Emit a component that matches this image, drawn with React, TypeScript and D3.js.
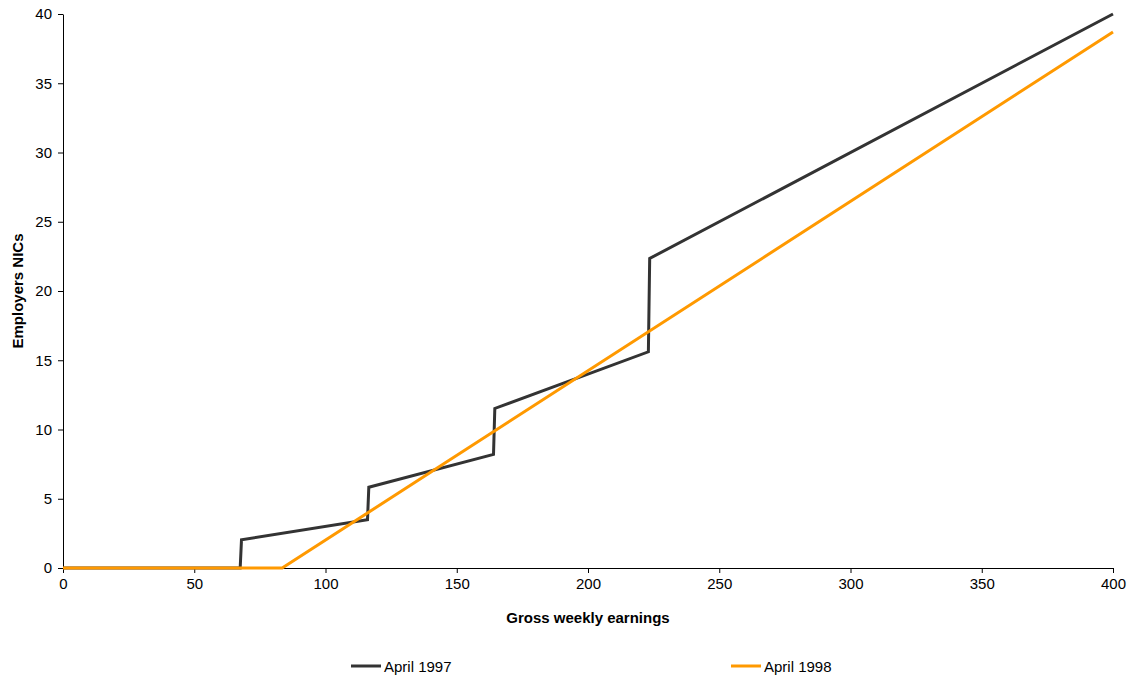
import React, { useEffect, useRef } from "react";
import * as d3 from "d3";

// Employers NICs by gross weekly earnings
const april1997X = [0, 67.5, 68, 116, 116.5, 164, 164.5, 223, 223.5, 400];
const april1997Y = [0, 0, 2.04, 3.48, 5.83, 8.2, 11.52, 15.61, 22.35, 40];
const april1998X = [0, 83.5, 400];
const april1998Y = [0, 0, 38.7];
const seriesNames = ["April 1997", "April 1998"];
const seriesColors = ["#333333", "#FF9900"];
const xTicks = [0, 50, 100, 150, 200, 250, 300, 350, 400];
const yTicks = [0, 5, 10, 15, 20, 25, 30, 35, 40];

const W = 1133;
const H = 681;

export default function App() {
  const ref = useRef<SVGSVGElement | null>(null);

  useEffect(() => {
    const node = ref.current;
    if (!node) return;
    const svg = d3.select(node);
    svg.selectAll("*").remove();

    const margin = { top: 14, right: 20, bottom: 113, left: 63 };
    const width = W - margin.left - margin.right;
    const height = H - margin.top - margin.bottom;
    const font = "'Liberation Sans', Arial, sans-serif";
    const fs = "15px";

    const x = d3.scaleLinear().domain([0, 400]).range([0, width]);
    const y = d3.scaleLinear().domain([0, 40]).range([height, 0]);

    const g = svg
      .append("g")
      .attr("transform", `translate(${margin.left},${margin.top})`);

    const xAxis = g
      .append("g")
      .attr("transform", `translate(0,${height})`)
      .call(d3.axisBottom(x).tickValues(xTicks).tickSize(5).tickSizeOuter(0).tickPadding(5));
    const yAxis = g
      .append("g")
      .call(d3.axisLeft(y).tickValues(yTicks).tickSize(5).tickSizeOuter(0).tickPadding(6));

    [xAxis, yAxis].forEach(a => {
      a.selectAll("path, line").attr("stroke", "#000").attr("stroke-width", 1);
      a.selectAll("text")
        .attr("fill", "#000")
        .style("font-family", font)
        .style("font-size", fs);
    });

    g.append("text")
      .attr("x", width / 2)
      .attr("y", height + 55)
      .attr("text-anchor", "middle")
      .style("font-family", font)
      .style("font-size", fs)
      .style("font-weight", "bold")
      .text("Gross weekly earnings");

    g.append("text")
      .attr("transform", "rotate(-90)")
      .attr("x", -height / 2)
      .attr("y", -40)
      .attr("text-anchor", "middle")
      .style("font-family", font)
      .style("font-size", fs)
      .style("font-weight", "bold")
      .text("Employers NICs");

    const line = d3
      .line<[number, number]>()
      .x(d => x(d[0]))
      .y(d => y(d[1]));

    const series: [number, number][][] = [
      april1997X.map((v, i) => [v, april1997Y[i]] as [number, number]),
      april1998X.map((v, i) => [v, april1998Y[i]] as [number, number]),
    ];

    series.forEach((s, i) => {
      g.append("path")
        .datum(s)
        .attr("fill", "none")
        .attr("stroke", seriesColors[i])
        .attr("stroke-width", 3)
        .attr("stroke-linejoin", "miter")
        .attr("d", line);
    });

    // legend
    const legendX = [351, 731];
    const legendY = 666;
    seriesNames.forEach((name, i) => {
      svg
        .append("line")
        .attr("x1", legendX[i])
        .attr("x2", legendX[i] + 30)
        .attr("y1", legendY)
        .attr("y2", legendY)
        .attr("stroke", seriesColors[i])
        .attr("stroke-width", 3);
      svg
        .append("text")
        .attr("x", legendX[i] + 33)
        .attr("y", legendY + 6)
        .style("font-family", font)
        .style("font-size", fs)
        .text(name);
    });
  }, []);

  return (
    <div style={{ position: "fixed", left: 0, top: 0 }}>
      <svg ref={ref} width={W} height={H} style={{ display: "block", background: "#fff" }} />
    </div>
  );
}
